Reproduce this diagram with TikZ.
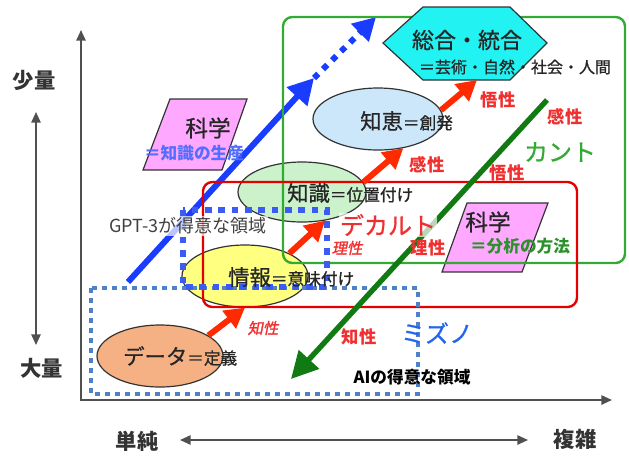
\documentclass[tikz,border=0pt]{standalone}
\usepackage{fontspec}
\setmainfont{Noto Sans CJK JP}
\newfontfamily\slantjp{Noto Sans CJK JP}[FakeSlant=0.2,FakeBold=1.5]
\newfontfamily\jpmed{Noto Sans CJK JP}[FakeBold=0.8]
\usetikzlibrary{shapes.geometric,arrows.meta}

\definecolor{dataorange}{HTML}{F5B183}
\definecolor{infoyellow}{HTML}{FFFF80}
\definecolor{knowgreen}{HTML}{CCF2CC}
\definecolor{wisdomblue}{HTML}{CCE6FA}
\definecolor{sogocyan}{HTML}{22F2F2}
\definecolor{sciencepink}{HTML}{FFA8FF}
\definecolor{arrowblue}{HTML}{1A3CFF}
\definecolor{arrowred}{HTML}{FF2A00}
\definecolor{arrowgreen}{HTML}{127A12}
\definecolor{aiblue}{HTML}{4F81C7}
\definecolor{gptblue}{HTML}{3A5CF5}
\definecolor{labelred}{HTML}{F03030}
\definecolor{kantgreen}{HTML}{33AA33}
\definecolor{mizunoblue}{HTML}{2266EE}
\definecolor{axisgray}{HTML}{505050}

\newcommand{\stagebig}{\fontsize{16}{18}\selectfont}
\newcommand{\stagesmall}{\fontsize{12.5}{14}\selectfont}

\begin{document}
\begin{tikzpicture}[x=0.75pt, y=-0.75pt,
    stage/.style={ellipse, draw=black!80, line width=0.9pt, inner sep=0pt},
    stagetext/.style={anchor=west, inner sep=0pt, text=black!85, font=\jpmed},
    sheet/.style={draw=black!80, line width=0.9pt},
    axis/.style={draw=axisgray, line width=1.3pt},
    axislabel/.style={text=black!80, font=\fontsize{16}{18}\selectfont\bfseries},
    flow/.style={arrowred, line width=4.5pt, -{Triangle[length=15pt,width=16pt]}},
    sense/.style={text=labelred, font=\fontsize{13}{15}\selectfont\bfseries},
    sensesmall/.style={text=labelred, font=\fontsize{11.5}{13}\slantjp},
    school/.style={font=\fontsize{18}{20}\jpmed},
    field/.style={line width=3.5pt, dash pattern=on 3.5pt off 4pt}
  ]
  \useasboundingbox (0,0) rectangle (629,455);

  % axes and scales
  \coordinate (origin) at (81,400);
  \coordinate (ytop) at (81,30);
  \coordinate (xend) at (612,400);
  \draw[axis, {Triangle[length=8pt,width=7pt]}-{Triangle[length=8pt,width=7pt]}] (ytop) -- (origin) -- (xend);
  \node[axislabel] (few) at (34,80) {少量};
  \node[axislabel] (many) at (42,368) {大量};
  \node[axislabel] (simple) at (137,441) {単純};
  \node[axislabel] (complex) at (575,439) {複雑};
  \coordinate (fewend) at (36,112);
  \coordinate (manyend) at (36,345);
  \coordinate (simpleend) at (180,440);
  \coordinate (complexend) at (528,440);
  \draw[axis, {Triangle[length=8pt,width=7pt]}-{Triangle[length=8pt,width=7pt]}] (fewend) -- (manyend);
  \draw[axis, {Triangle[length=8pt,width=7pt]}-{Triangle[length=8pt,width=7pt]}] (simpleend) -- (complexend);

  % blue arrow
  \coordinate (b0) at (128,282);
  \coordinate (b1) at (314,78);
  \coordinate (b2) at (376,17);
  \draw[arrowblue, line width=4.5pt, -{Triangle[length=19pt,width=20pt]}] (b0) -- (b1);
  \draw[arrowblue, line width=4.5pt, dash pattern=on 4.5pt off 5pt, -{Triangle[length=17pt,width=18pt]}] (b1) -- (b2);

  % stages
  \node[stage, fill=dataorange, minimum width=94.5pt, minimum height=46.5pt] (data) at (160,356) {};
  \node[stage, fill=infoyellow, minimum width=94.5pt, minimum height=46.5pt] (info) at (245,276) {};
  \node[stage, fill=knowgreen, minimum width=96pt, minimum height=45pt] (know) at (302,192) {};
  \node[stage, fill=wisdomblue, minimum width=97.5pt, minimum height=46.5pt] (wisdom) at (378,119) {};

  % science sheets
  \filldraw[sheet, fill=sciencepink] (170,99) -- (247,99) -- (222,170) -- (143,170) -- cycle;
  \filldraw[sheet, fill=sciencepink] (467,203) -- (548,203) -- (522,272) -- (442,272) -- cycle;

  % fields
  \draw[kantgreen, line width=1.8pt, rounded corners=7pt] (283,17) rectangle (625,263);
  \draw[red!90!black, line width=1.8pt, rounded corners=7pt] (203,182) rectangle (577,307);
  \draw[aiblue, field] (91,288) rectangle (418,394);
  \draw[gptblue, line width=4.5pt, dash pattern=on 5pt off 5pt] (183,210) rectangle (327,287);

  % synthesis
  \filldraw[sheet, fill=sogocyan] (383,43) -- (423,7) -- (510,7) -- (547,43) -- (510,80) -- (423,80) -- cycle;
  \coordinate (sogobase) at (477,80);

  % red arrows
  \draw[flow] (data.23) -- (info.south);
  \draw[flow] (info.27) -- (know.-51);
  \draw[flow] (know.9) -- (wisdom.-49);
  \draw[flow] (wisdom.8) -- (sogobase);

  % green arrow
  \coordinate (g0) at (547,100);
  \coordinate (g1) at (291,379);
  \draw[arrowgreen, line width=4pt, -{Triangle[length=20pt,width=20pt]}] (g0) -- (g1);

  % texts
  \node[stagetext] (dataT) at (123,356) {\stagebig データ\stagesmall ＝定義};
  \node[stagetext] (infoT) at (228,277) {\stagebig 情報\stagesmall ＝意味付け};
  \node[stagetext] (knowT) at (287,193) {\stagebig 知識\stagesmall ＝位置付け};
  \node[stagetext] (wisdomT) at (360,121) {\stagebig 知恵\stagesmall ＝創発};
  \node[text=black!85, font=\fontsize{16.5}{18}\jpmed] (sogo) at (467,40) {総合・統合};
  \node[text=black!85, font=\fontsize{12}{14}\jpmed] (sogosub) at (515,67) {＝芸術・自然・社会・人間};
  \node[text=black!85, font=\fontsize{17}{19}\jpmed] (sci1) at (208,128) {科学};
  \node[text=arrowblue!75, font=\fontsize{12.5}{14}\selectfont\bfseries] (sci1sub) at (194,153) {＝知識の生産};
  \node[text=black!85, font=\fontsize{17}{19}\jpmed] (sci2) at (488,222) {科学};
  \node[text=kantgreen!85!black, font=\fontsize{12.5}{14}\selectfont\bfseries] (sci2sub) at (520,246) {＝分析の方法};

  \node[text=black!75, fill=white, fill opacity=0.7, text opacity=1, inner sep=1.5pt, font=\fontsize{13.5}{15}\selectfont] (gpt) at (188,226) {GPT-3が得意な領域};
  \node[text=black, font=\fontsize{12.5}{14}\selectfont\bfseries] (ai) at (412,377) {AIの得意な領域};

  \node[school, text=labelred, fill=white, fill opacity=0.7, text opacity=1, inner sep=1pt] (descartes) at (388,225) {デカルト};
  \node[school, text=kantgreen] (kant) at (560,152) {カント};
  \node[school, text=mizunoblue] (mizuno) at (437,333) {ミズノ};

  \node[sense] (goA) at (498,100) {悟性};
  \node[sense] (kanA) at (565,117) {感性};
  \node[sense] (kanB) at (427,165) {感性};
  \node[sense] (goB) at (507,173) {悟性};
  \node[sense] (riB) at (428,248) {理性};
  \node[sense] (chiB) at (359,337) {知性};
  \node[sensesmall] (riA) at (347,248) {理性};
  \node[sensesmall] (chiA) at (263,328) {知性};
\end{tikzpicture}
\end{document}
